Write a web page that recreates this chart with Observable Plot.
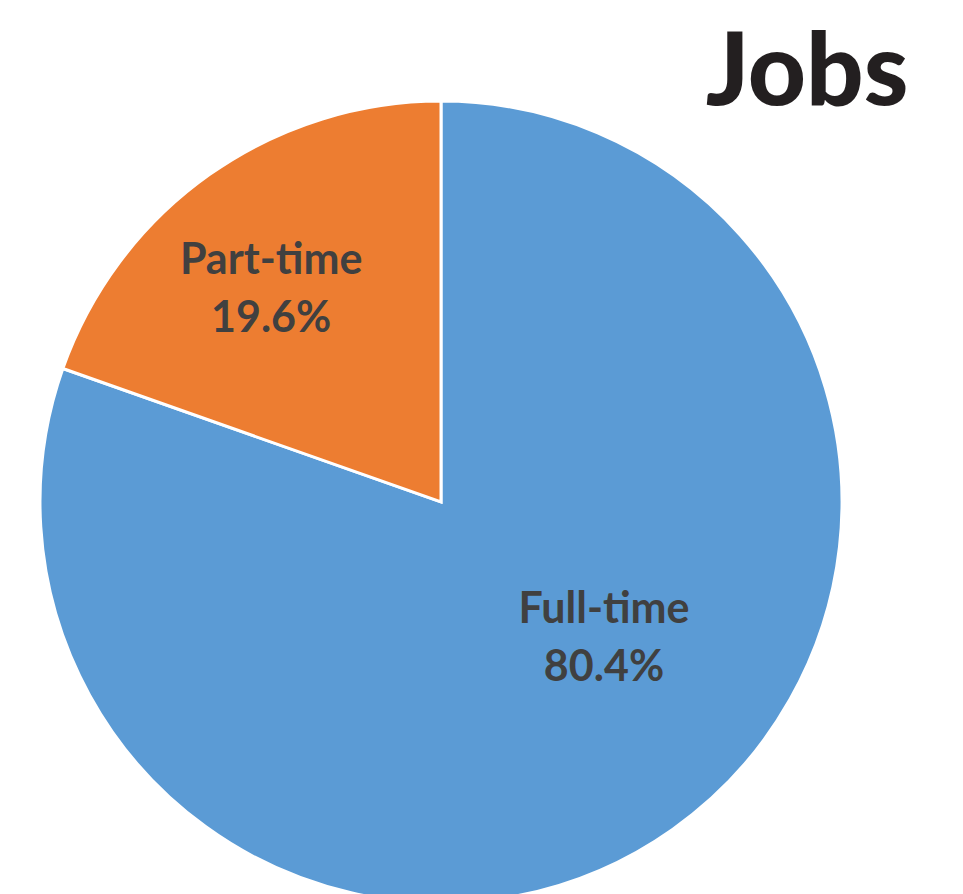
<!DOCTYPE html>
<html>
<head>
<meta charset="utf-8">
<script src="https://cdn.jsdelivr.net/npm/d3@7"></script>
<script src="https://cdn.jsdelivr.net/npm/@observablehq/plot@0.6"></script>
<style>
  html, body { margin: 0; padding: 0; background: #ffffff; }
  #chart { width: 963px; height: 894px; overflow: hidden; }
</style>
</head>
<body>
<div id="chart"></div>
<script>
// ---- data ----
const title = "Jobs";
const categories = ["Full-time", "Part-time"];
const shares = [80.4, 19.6];
const colors = ["#5b9bd5", "#ed7d31"];

// ---- layout (label placement, in polar terms of the pie) ----
const labelAngleDeg = {"Full-time": 128.8, "Part-time": 322.0}; // clockwise from 12 o'clock
const labelRadius = {"Full-time": 0.52, "Part-time": 0.69};

const slices = categories.map((c, i) => ({category: c, value: shares[i], color: colors[i]}));
const pie = d3.pie().value(d => d.value).sort(null)(slices);

const labels = slices.map(d => {
  const a = labelAngleDeg[d.category] * Math.PI / 180;
  const r = labelRadius[d.category];
  return {text: `${d.category}\n${d.value.toFixed(1)}%`, x: r * Math.sin(a), y: r * Math.cos(a)};
});

function pieMark(index, scales, values, dimensions) {
  const cx = scales.x(0), cy = scales.y(0);
  const R = scales.x(1) - scales.x(0);
  const arc = d3.arc().innerRadius(0).outerRadius(R);
  const g = d3.create("svg:g").attr("transform", `translate(${cx},${cy})`);
  g.selectAll("path")
    .data(pie)
    .join("path")
    .attr("d", arc)
    .attr("fill", d => d.data.color)
    .attr("stroke", "#ffffff")
    .attr("stroke-width", 3)
    .attr("stroke-linejoin", "miter");
  return g.node();
}

const chart = Plot.plot({
  width: 963,
  height: 894,
  marginTop: 0, marginRight: 0, marginBottom: 0, marginLeft: 0,
  style: {background: "#ffffff", overflow: "hidden"},
  x: {domain: [-1, 1], range: [40, 842], axis: null},
  y: {domain: [-1, 1], range: [903, 101], axis: null},
  marks: [
    pieMark,
    Plot.text(labels, {
      x: "x", y: "y", text: "text",
      fill: "#404040",
      fontSize: 43,
      fontWeight: "bold",
      fontFamily: "Lato, 'Open Sans', sans-serif",
      lineHeight: 1.35,
      textAnchor: "middle",
      lineAnchor: "middle"
    }),
    Plot.text([title], {
      frameAnchor: "top-right",
      text: d => d,
      dx: -55, dy: 104,
      fill: "#231f20",
      fontSize: 101,
      fontWeight: 900,
      fontFamily: "Lato, 'Open Sans', sans-serif",
      lineAnchor: "bottom",
      textAnchor: "end"
    })
  ]
});
document.getElementById("chart").appendChild(chart);
</script>
</body>
</html>
